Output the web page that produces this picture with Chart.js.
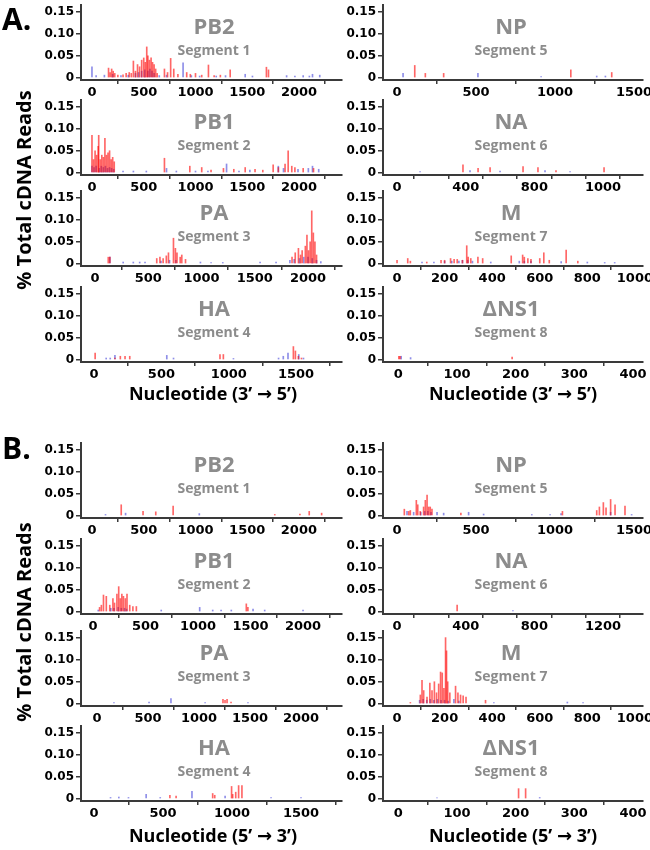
<!DOCTYPE html>
<html>
<head>
<meta charset="utf-8">
<script src="https://cdn.jsdelivr.net/npm/chart.js@4.4.0/dist/chart.umd.min.js"></script>
<style>
  body { margin: 0; background: #fff; }
  #fig { position: relative; width: 650px; height: 850px; overflow: hidden; font-family: "Open Sans", sans-serif; }
  canvas { position: absolute; }
  .ttl { position: absolute; width: 200px; text-align: center; color: #8c8c8c; font-weight: bold; font-size: 22px; line-height: 24px; }
  .seg { position: absolute; width: 200px; text-align: center; color: #8c8c8c; font-weight: bold; font-size: 14px; line-height: 16px; }
  .lbl { position: absolute; color: #000; font-weight: bold; }
  .arr { font-family: "DejaVu Sans", sans-serif; font-weight: bold; }
</style>
</head>
<body>
<div id="fig"></div>
<script>
// [nucleotide, % total cDNA reads]
const aPB2Red = [[160,0.022],[175,0.012],[190,0.02],[205,0.015],[220,0.01],[250,0.006],[300,0.007],[330,0.01],[360,0.012],[380,0.01],[400,0.038],[420,0.015],[440,0.03],[460,0.025],[480,0.04],[500,0.045],[515,0.035],[529,0.07],[540,0.05],[555,0.04],[571,0.045],[585,0.035],[600,0.03],[615,0.02],[630,0.01],[700,0.02],[730,0.012],[760,0.044],[790,0.02],[830,0.008],[915,0.012],[950,0.008],[1000,0.01],[1060,0.006],[1125,0.029],[1180,0.005],[1240,0.006],[1335,0.018],[1685,0.024],[1705,0.018]];
const aPB2Blue = [[0,0.025],[40,0.005],[120,0.006],[200,0.008],[280,0.005],[350,0.006],[420,0.01],[450,0.012],[480,0.015],[510,0.018],[540,0.015],[560,0.02],[580,0.015],[600,0.01],[650,0.005],[720,0.006],[880,0.034],[960,0.005],[1040,0.004],[1200,0.004],[1290,0.005],[1480,0.008],[1550,0.004],[1880,0.005],[1960,0.004],[2040,0.005],[2100,0.004],[2130,0.008],[2200,0.006]];
const aPB1Red = [[0,0.085],[15,0.03],[30,0.05],[45,0.04],[60,0.06],[65,0.085],[80,0.03],[95,0.04],[110,0.035],[125,0.078],[140,0.04],[155,0.045],[170,0.05],[185,0.03],[200,0.035],[215,0.025],[700,0.033],[945,0.015],[1060,0.012],[1150,0.006],[1270,0.01],[1370,0.008],[1480,0.012],[1575,0.008],[1650,0.006],[1750,0.018],[1800,0.012],[1865,0.02],[1895,0.05],[1930,0.015],[1960,0.012],[2040,0.01],[2140,0.01]];
const aPB1Blue = [[0,0.015],[20,0.012],[40,0.015],[70,0.01],[90,0.015],[110,0.012],[130,0.015],[150,0.01],[170,0.012],[190,0.01],[210,0.008],[300,0.004],[400,0.004],[525,0.004],[720,0.01],[815,0.004],[1000,0.004],[1120,0.004],[1300,0.02],[1420,0.004],[1525,0.006],[1800,0.015],[1850,0.01],[1990,0.008],[2090,0.01],[2130,0.015],[2190,0.008]];
const aPARed = [[125,0.015],[140,0.015],[580,0.012],[610,0.015],[640,0.012],[670,0.018],[690,0.025],[737,0.058],[755,0.035],[770,0.025],[800,0.015],[815,0.02],[850,0.01],[1850,0.015],[1880,0.025],[1910,0.035],[1930,0.02],[1945,0.03],[1975,0.04],[1990,0.065],[2005,0.03],[2020,0.05],[2035,0.12],[2050,0.07],[2065,0.05],[2080,0.02]];
const aPABlue = [[140,0.015],[265,0.004],[360,0.004],[420,0.004],[470,0.004],[620,0.006],[700,0.008],[760,0.008],[990,0.004],[1090,0.003],[1200,0.003],[1550,0.004],[1700,0.004],[1830,0.008],[1870,0.01],[1920,0.012],[1960,0.015],[2000,0.015],[2040,0.012],[2080,0.008],[2120,0.005]];
const aHARed = [[8,0.015],[155,0.004],[195,0.008],[230,0.008],[265,0.008],[935,0.012],[960,0.012],[1480,0.03],[1495,0.02],[1517,0.008],[1540,0.004]];
const aHABlue = [[90,0.004],[120,0.004],[155,0.01],[540,0.01],[590,0.004],[1035,0.003],[1370,0.004],[1405,0.008],[1440,0.015],[1520,0.012],[1555,0.004]];
const aNPRed = [[112,0.028],[179,0.01],[295,0.01],[1100,0.018],[1359,0.012]];
const aNPBlue = [[38,0.01],[512,0.01],[912,0.003],[1264,0.004],[1319,0.004]];
const aNARed = [[384,0.018],[472,0.01],[542,0.012],[734,0.014],[821,0.012],[926,0.005],[1206,0.012]];
const aNABlue = [[134,0.003],[425,0.005],[600,0.004],[862,0.005],[1008,0.003]];
const aMRed = [[0,0.008],[45,0.012],[56,0.006],[125,0.004],[185,0.008],[200,0.008],[225,0.012],[240,0.01],[253,0.01],[275,0.008],[293,0.041],[299,0.015],[310,0.012],[340,0.015],[360,0.012],[480,0.018],[528,0.02],[535,0.015],[550,0.012],[563,0.01],[600,0.012],[617,0.025],[640,0.008],[711,0.031],[760,0.006]];
const aMBlue = [[105,0.004],[155,0.004],[200,0.006],[230,0.006],[260,0.006],[275,0.008],[297,0.008],[317,0.006],[394,0.004],[514,0.006],[535,0.006],[563,0.006],[690,0.005],[800,0.004],[873,0.003],[915,0.003]];
const aNS1Red = [[1,0.008],[3,0.008],[194,0.006]];
const aNS1Blue = [[5,0.008],[21,0.005]];

const bPB2Red = [[282,0.025],[493,0.01],[616,0.009],[784,0.022],[1767,0.003],[2010,0.004],[2100,0.01],[2220,0.006]];
const bPB2Blue = [[130,0.003],[324,0.006],[1037,0.005]];
const bPB1Red = [[63,0.01],[80,0.015],[100,0.038],[127,0.035],[160,0.015],[190,0.03],[205,0.02],[228,0.04],[245,0.057],[260,0.03],[275,0.04],[290,0.035],[308,0.03],[324,0.04],[350,0.015],[380,0.012],[413,0.012],[1460,0.018],[1475,0.01]];
const bPB1Blue = [[50,0.004],[170,0.008],[200,0.008],[240,0.01],[270,0.008],[300,0.008],[320,0.006],[650,0.004],[1016,0.01],[1140,0.004],[1220,0.004],[1317,0.004],[1524,0.006],[1635,0.004],[2000,0.004]];
const bPARed = [[1235,0.01],[1255,0.008],[1275,0.01],[1314,0.004]];
const bPABlue = [[166,0.003],[510,0.004],[725,0.012],[1060,0.003],[1480,0.003]];
const bHARed = [[550,0.008],[595,0.006],[860,0.012],[875,0.008],[997,0.028],[1005,0.01],[1027,0.015],[1048,0.03],[1072,0.03]];
const bHABlue = [[120,0.003],[180,0.004],[250,0.003],[378,0.01],[480,0.003],[710,0.017],[950,0.006],[1283,0.003],[1500,0.003]];
const bNPRed = [[46,0.015],[74,0.01],[84,0.012],[122,0.035],[131,0.025],[147,0.01],[168,0.02],[179,0.035],[190,0.047],[200,0.02],[210,0.02],[221,0.015],[404,0.006],[1047,0.01],[1264,0.012],[1281,0.02],[1306,0.03],[1323,0.018],[1352,0.037],[1380,0.025],[1443,0.022]];
const bNPBlue = [[63,0.01],[105,0.008],[150,0.008],[175,0.01],[195,0.01],[215,0.008],[253,0.008],[295,0.006],[453,0.008],[548,0.004],[853,0.003],[969,0.003],[1038,0.005],[1352,0.008],[1485,0.003]];
const bNARed = [[350,0.015]];
const bNABlue = [[675,0.003]];
const bMRed = [[56,0.003],[98,0.02],[105,0.053],[112,0.03],[126,0.015],[138,0.047],[147,0.03],[157,0.05],[166,0.025],[175,0.045],[183,0.072],[190,0.07],[197,0.035],[204,0.15],[208,0.12],[213,0.05],[222,0.025],[246,0.04],[256,0.025],[267,0.02],[278,0.018],[290,0.015],[372,0.008]];
const bMBlue = [[95,0.008],[110,0.01],[125,0.008],[140,0.01],[155,0.008],[170,0.01],[185,0.008],[200,0.008],[215,0.006],[239,0.01],[260,0.006],[407,0.003],[716,0.004],[782,0.003]];
const bNS1Red = [[205,0.023],[217,0.023]];
const bNS1Blue = [[66,0.002],[241,0.003]];

const yTickValues = [0, 0.05, 0.10, 0.15];
const ticks2000 = [0, 500, 1000, 1500, 2000];
const ticks1500 = [0, 500, 1000, 1500];
const ticksNA = [0, 200, 400, 600, 800, 1000, 1200, 1400];
// tick value -> printed label (panel A's NA axis prints "1000" at the 1200 mark)
const labelsNAa = {0: '0', 400: '400', 800: '800', 1200: '1000'};
const labelsNAb = {0: '0', 400: '400', 800: '800', 1200: '1200'};
const ticks1000 = [0, 200, 400, 600, 800, 1000];
const ticks400 = [0, 100, 200, 300, 400];

const panels = [
  {col: 0, top: 5,   name: 'PB2', seg: 'Segment 1', red: aPB2Red, blue: aPB2Blue, min: -106, max: 2415, ticks: ticks2000},
  {col: 0, top: 100, name: 'PB1', seg: 'Segment 2', red: aPB1Red, blue: aPB1Blue, min: -106, max: 2415, ticks: ticks2000},
  {col: 0, top: 191, name: 'PA',  seg: 'Segment 3', red: aPARed,  blue: aPABlue,  min: -131, max: 2319, ticks: ticks2000},
  {col: 0, top: 287, name: 'HA',  seg: 'Segment 4', red: aHARed,  blue: aHABlue,  min: -97,  max: 1841, ticks: ticks1500},
  {col: 1, top: 5,   name: 'NP',  seg: 'Segment 5', red: aNPRed,  blue: aNPBlue,  min: -89,  max: 1557, ticks: ticks1500},
  {col: 1, top: 100, name: 'NA',  seg: 'Segment 6', red: aNARed,  blue: aNABlue,  min: -82,  max: 1433, ticks: ticksNA, labels: labelsNAa},
  {col: 1, top: 191, name: 'M',   seg: 'Segment 7', red: aMRed,   blue: aMBlue,   min: -59,  max: 1034, ticks: ticks1000},
  {col: 1, top: 287, name: 'ΔNS1', seg: 'Segment 8', red: aNS1Red, blue: aNS1Blue, min: -26, max: 417, ticks: ticks400},
  {col: 0, top: 443, name: 'PB2', seg: 'Segment 1', red: bPB2Red, blue: bPB2Blue, min: -107, max: 2417, ticks: ticks2000},
  {col: 0, top: 539, name: 'PB1', seg: 'Segment 2', red: bPB1Red, blue: bPB1Blue, min: -114, max: 2371, ticks: ticks2000},
  {col: 0, top: 631, name: 'PA',  seg: 'Segment 3', red: bPARed,  blue: bPABlue,  min: -157, max: 2402, ticks: ticks2000},
  {col: 0, top: 726, name: 'HA',  seg: 'Segment 4', red: bHARed,  blue: bHABlue,  min: -94,  max: 1797, ticks: ticks1500},
  {col: 1, top: 443, name: 'NP',  seg: 'Segment 5', red: bNPRed,  blue: bNPBlue,  min: -89,  max: 1557, ticks: ticks1500},
  {col: 1, top: 539, name: 'NA',  seg: 'Segment 6', red: bNARed,  blue: bNABlue,  min: -82,  max: 1433, ticks: ticksNA, labels: labelsNAb},
  {col: 1, top: 631, name: 'M',   seg: 'Segment 7', red: bMRed,   blue: bMBlue,   min: -59,  max: 1034, ticks: ticks1000},
  {col: 1, top: 726, name: 'ΔNS1', seg: 'Segment 8', red: bNS1Red, blue: bNS1Blue, min: -26, max: 417, ticks: ticks400}
];

const fig = document.getElementById('fig');
const COLS = [
  {left: 0,   width: 345, yWidth: 81, padRight: 3, cx: 214},
  {left: 330, width: 320, yWidth: 53, padRight: 7, cx: 511}
];
const PAD_TOP = 8, AREA_H = 75, X_H = 28;
const AXIS = '#3a3a3a';

function addText(cls, text, left, top, extra) {
  const d = document.createElement('div');
  d.className = cls;
  d.textContent = text;
  d.style.left = left + 'px';
  d.style.top = top + 'px';
  if (extra) Object.assign(d.style, extra);
  fig.appendChild(d);
  return d;
}

panels.forEach(p => {
  const c = COLS[p.col];
  const cv = document.createElement('canvas');
  cv.width = c.width;
  cv.height = PAD_TOP + AREA_H + X_H;
  cv.style.left = c.left + 'px';
  cv.style.top = (p.top - PAD_TOP) + 'px';
  fig.appendChild(cv);

  const tickLabel = v => p.labels ? (p.labels[v] || '') : String(v);
  new Chart(cv, {
    type: 'bar',
    data: {
      datasets: [
        {data: p.red.map(([x, y]) => ({x, y})), backgroundColor: 'rgba(255,0,0,0.6)', barThickness: 1, grouped: false},
        {data: p.blue.map(([x, y]) => ({x, y})), backgroundColor: 'rgba(30,30,210,0.5)', barThickness: 1, grouped: false}
      ]
    },
    options: {
      responsive: false,
      animation: false,
      devicePixelRatio: 1,
      layout: {padding: {top: PAD_TOP, right: c.padRight, left: 0, bottom: 0}},
      plugins: {legend: {display: false}, tooltip: {enabled: false}},
      scales: {
        x: {
          type: 'linear', min: p.min, max: p.max, offset: false,
          afterBuildTicks: s => { s.ticks = p.ticks.map(v => ({value: v})); },
          afterFit: s => { s.height = X_H; s.paddingLeft = 0; s.paddingRight = 0; },
          ticks: {
            autoSkip: false, maxRotation: 0, padding: 1, color: '#000',
            font: {family: 'DejaVu Sans', weight: 'bold', size: 13},
            callback: tickLabel
          },
          grid: {drawOnChartArea: false, drawTicks: true, tickLength: 4, color: AXIS, lineWidth: 1.5},
          border: {display: true, color: AXIS, width: 2}
        },
        y: {
          min: -0.005, max: 0.165,
          afterBuildTicks: s => { s.ticks = yTickValues.map(v => ({value: v})); },
          afterFit: s => { s.width = c.yWidth; s.paddingTop = 0; s.paddingBottom = 0; },
          ticks: {
            padding: 2, color: '#000',
            font: {family: 'DejaVu Sans', weight: 'bold', size: 12},
            callback: v => v === 0 ? '0' : v.toFixed(2)
          },
          grid: {drawOnChartArea: false, drawTicks: true, tickLength: 5, color: AXIS, lineWidth: 1.5},
          border: {display: true, color: AXIS, width: 2}
        }
      }
    }
  });

  addText('ttl', p.name, c.cx - 100, p.top + 20 - 12);
  addText('seg', p.seg, c.cx - 100, p.top + 45 - 8);
});

// section letters and axis titles
addText('lbl', 'A.', 2, 1, {fontSize: '30px', lineHeight: '36px'});
addText('lbl', 'B.', 2, 430, {fontSize: '30px', lineHeight: '36px'});
[190, 622].forEach(cy => {
  addText('lbl', '% Total cDNA Reads', 24 - 130, cy - 14,
    {width: '260px', textAlign: 'center', fontSize: '20px', lineHeight: '28px', transform: 'rotate(-90deg)'});
});
[[213, 393, '3’', '5’'], [513, 393, '3’', '5’'],
 [213, 835, '5’', '3’'], [513, 835, '5’', '3’']].forEach(([cx, cy, a, b]) => {
  const d = addText('lbl', '', cx - 130, cy - 13,
    {width: '260px', textAlign: 'center', fontSize: '18px', lineHeight: '26px'});
  d.append('Nucleotide (' + a + ' ');
  const s = document.createElement('span');
  s.className = 'arr';
  s.textContent = '→';
  d.append(s, ' ' + b + ')');
});
</script>
</body>
</html>
